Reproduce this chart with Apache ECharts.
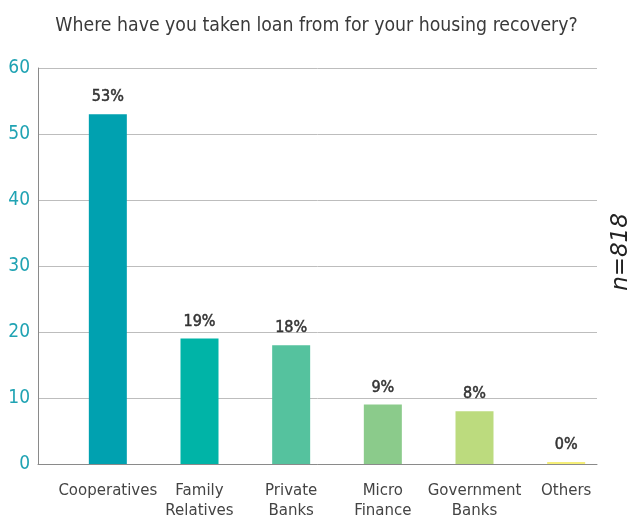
<!DOCTYPE html>
<html>
<head>
<meta charset="utf-8">
<script src="https://cdn.jsdelivr.net/npm/echarts@6/dist/echarts.min.js"></script>
<style>
  html, body { margin: 0; padding: 0; background: #fff; }
  #chart { width: 633px; height: 519px; }
</style>
</head>
<body>
<div id="chart"></div>
<script>
// Loan sources for housing recovery (share of respondents, %)
const titleText = 'Where have you taken loan from for your housing recovery?';
const categories = ['Cooperatives', 'Family\nRelatives', 'Private\nBanks', 'Micro\nFinance', 'Government\nBanks', 'Others'];
const shares = [53, 19, 18, 9, 8, 0];
const barColors = ['#00a1b0', '#00b4a7', '#55c29e', '#8bcb8b', '#bcdb7e', '#f5ee78'];
const yTicks = { min: 0, max: 60, interval: 10 };
const sampleNote = 'n=818';

const FONT = '"DejaVu Sans Condensed", "DejaVu Sans", sans-serif';
const WIDE_FONT = '"DejaVu Sans", sans-serif';

const chart = echarts.init(document.getElementById('chart'));

chart.setOption({
  animation: false,
  backgroundColor: '#ffffff',
  title: {
    text: titleText,
    left: 'center',
    top: 11,
    textStyle: { fontFamily: FONT, fontSize: 19.3, fontWeight: 'normal', color: '#3a3a3a' }
  },
  grid: [
    // frame: value axis, gridlines and baseline
    { left: 38, right: 36, top: 68, bottom: 55, outerBoundsMode: 'none' },
    // bars and category labels
    { left: 62, right: 21, top: 68, bottom: 55, outerBoundsMode: 'none' }
  ],
  xAxis: [
    {
      gridIndex: 0, type: 'category', data: [''],
      axisLine: { show: true, lineStyle: { color: '#8a8a8a', width: 1 } },
      axisTick: { show: false }, axisLabel: { show: false }
    },
    {
      gridIndex: 1, type: 'category', data: categories,
      axisLine: { show: false }, axisTick: { show: false },
      axisLabel: {
        interval: 0, margin: 17, lineHeight: 20,
        fontFamily: WIDE_FONT, fontSize: 15, color: '#444'
      }
    }
  ],
  yAxis: [
    {
      gridIndex: 0, type: 'value', min: yTicks.min, max: yTicks.max, interval: yTicks.interval,
      axisLine: { show: true, lineStyle: { color: '#8a8a8a', width: 1 } },
      axisTick: { show: false },
      axisLabel: { margin: 8, fontFamily: FONT, fontSize: 19, color: '#20a3b3' },
      splitLine: { show: true, lineStyle: { color: '#bdbdbd', width: 1 } }
    },
    {
      gridIndex: 1, type: 'value', min: yTicks.min, max: yTicks.max, interval: yTicks.interval,
      show: false
    }
  ],
  series: [{
    type: 'bar',
    xAxisIndex: 1, yAxisIndex: 1,
    data: shares.map((v, i) => ({ value: v, itemStyle: { color: barColors[i] } })),
    barWidth: 38,
    barMinHeight: 2,
    label: {
      show: true, position: 'top', distance: 9,
      formatter: p => p.value + '%',
      fontFamily: FONT, fontSize: 16, fontWeight: 'normal', color: '#333',
      textBorderColor: '#333', textBorderWidth: 0.5
    }
  }],
  graphic: [{
    type: 'text',
    x: 621, y: 252,
    rotation: Math.PI / 2,
    style: {
      text: sampleNote,
      align: 'center', verticalAlign: 'middle',
      font: 'italic 23px ' + WIDE_FONT,
      fill: '#222'
    }
  }]
});
</script>
</body>
</html>
